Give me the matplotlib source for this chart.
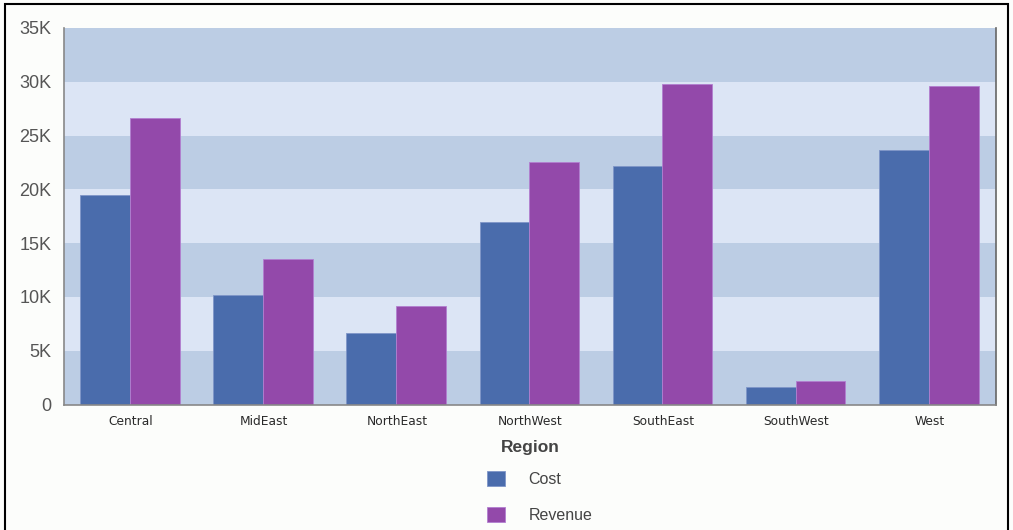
import matplotlib
matplotlib.use("Agg")
import matplotlib.pyplot as plt
from matplotlib.patches import Rectangle, Patch
import numpy as np

regions = ["Central", "MidEast", "NorthEast", "NorthWest", "SouthEast", "SouthWest", "West"]
cost = [19450, 10150, 6650, 16950, 22200, 1630, 23700]
revenue = [26600, 13550, 9150, 22550, 29800, 2180, 29570]
yticks = [0, 5000, 10000, 15000, 20000, 25000, 30000, 35000]
ytick_labels = ["0", "5K", "10K", "15K", "20K", "25K", "30K", "35K"]

W, H = 1013, 530
fig = plt.figure(figsize=(W / 100, H / 100), dpi=100)
fig.patch.set_facecolor("#FCFDFB")
ax = fig.add_axes([64 / W, 1 - 404.5 / H, (996 - 64) / W, (404.5 - 28) / H])
ax.set_facecolor("#DCE5F5")

# alternating bands
for i in range(len(yticks) - 1):
    if i % 2 == 0:
        ax.axhspan(yticks[i], yticks[i + 1], color="#BCCDE4", lw=0, zorder=0)

x = np.arange(len(regions))
bw = 0.374
ax.bar(x - bw / 2 - 0.005, cost, bw, color="#4A6CAC", edgecolor="#7F95C8", linewidth=0.6, zorder=2, label="Cost")
ax.bar(x + bw / 2 - 0.005, revenue, bw, color="#9349AA", edgecolor="#B27FD0", linewidth=0.6, zorder=2, label="Revenue")

ax.set_xlim(-0.5, len(regions) - 0.5)
ax.set_ylim(0, 35000)
ax.set_yticks(yticks)
ax.set_yticklabels(ytick_labels, fontfamily="Liberation Sans", fontsize=13, color="#555555")
ax.set_xticks(x)
ax.set_xticklabels(regions, fontfamily="DejaVu Sans", fontsize=8.8, color="#2A2A2A")
ax.tick_params(axis="y", length=0, pad=9)
ax.tick_params(axis="x", length=0, pad=7.5)

for s in ["top"]:
    ax.spines[s].set_visible(False)
for s in ["left", "bottom", "right"]:
    ax.spines[s].set_color("#888888")
    ax.spines[s].set_linewidth(1.2)
ax.spines["right"].set_color("#666666")

ax.set_xlabel("Region", fontfamily="Liberation Sans", fontsize=12.5, fontweight="bold", color="#444444", labelpad=9)

handles = [Patch(facecolor="#4A6CAC", edgecolor="#7F95C8", linewidth=0.6),
           Patch(facecolor="#9349AA", edgecolor="#B27FD0", linewidth=0.6)]
leg = fig.legend(handles, ["Cost", "Revenue"], loc="upper left",
                 bbox_to_anchor=(487 / W, 1 - 471 / H), frameon=False,
                 prop={"family": "Liberation Sans", "size": 11.5},
                 handlelength=1.1, handleheight=1.1, handletextpad=1.5,
                 labelspacing=1.25, borderpad=0, borderaxespad=0)
for t in leg.get_texts():
    t.set_color("#444444")

# outer border
fig.patches.append(Rectangle((5 / W, -0.01), (1008 - 5) / W, 1 - 4 / H + 0.01,
                             transform=fig.transFigure, fill=False,
                             edgecolor="black", linewidth=1.5))

fig.savefig("out.png", dpi=100, facecolor=fig.get_facecolor())
